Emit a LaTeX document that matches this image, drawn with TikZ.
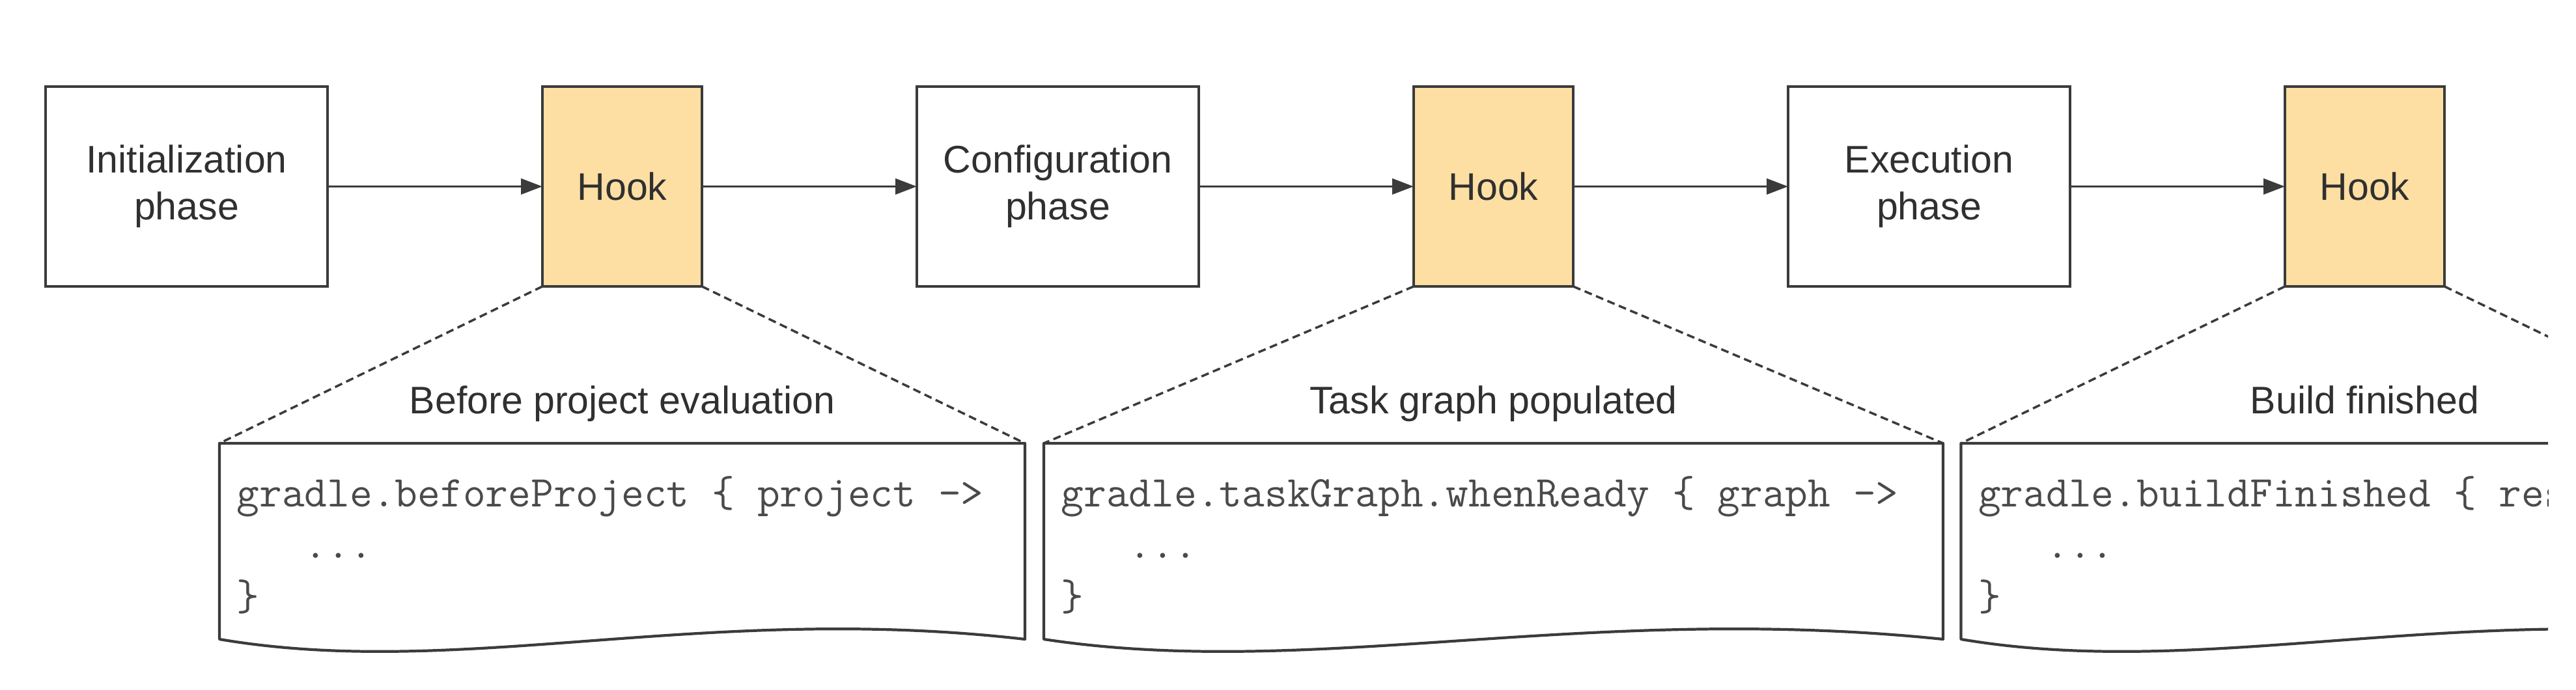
\documentclass[tikz,border=0pt]{standalone}
\usepackage{fontspec}
\setmainfont{Liberation Sans}
\usetikzlibrary{positioning,arrows.meta,calc}
\definecolor{hookfill}{HTML}{FDDFA3}
\definecolor{linegray}{HTML}{3B3B3B}
\definecolor{textgray}{HTML}{303030}
\definecolor{codegray}{HTML}{4A4A4A}
\tikzset{
  phase/.style={draw=linegray, line width=1.2pt, minimum width=4.33cm, minimum height=3.07cm,
    inner sep=0pt, outer sep=0pt, align=center, text=textgray, font=\fontsize{16.8}{20.5}\selectfont},
  hook/.style={phase, fill=hookfill, minimum width=2.45cm},
  flow/.style={->, draw=linegray, line width=1.1pt},
  zoomline/.style={draw=linegray, line width=1pt, dash pattern=on 0.12cm off 0.07cm},
  docbox/.style={minimum height=3.01cm, inner sep=0pt, outer sep=0pt},
  docline/.style={draw=linegray, line width=1.2pt, line join=round},
  hooklabel/.style={text=textgray, anchor=base, inner sep=0pt, font=\fontsize{16.8}{20.5}\selectfont},
  codetext/.style={text=codegray, anchor=base west, align=left, inner sep=0pt,
    font=\ttfamily\fontsize{19.2}{22.5}\selectfont}
}
\begin{document}
\begin{tikzpicture}[>={Triangle[length=0.33cm,width=0.24cm]}]
\useasboundingbox (0,0) rectangle (39.56,-10.60);
\clip (0,0) rectangle (39.13,-10.60);
% phases and hooks
\node (init) [phase] at (2.865,-2.865) {Initialization\\phase};
\node (h1) [hook, right=3.3cm of init] {Hook};
\node (conf) [phase, right=3.3cm of h1] {Configuration\\phase};
\node (h2) [hook, right=3.3cm of conf] {Hook};
\node (exec) [phase, right=3.3cm of h2] {Execution\\phase};
\node (h3) [hook, right=3.3cm of exec] {Hook};
\draw[flow] (init) -- (h1);
\draw[flow] (h1) -- (conf);
\draw[flow] (conf) -- (h2);
\draw[flow] (h2) -- (exec);
\draw[flow] (exec) -- (h3);
% what each hook looks like
\node (doc1) [docbox, minimum width=12.37cm, below=2.41cm of h1] {};
\node (doc2) [docbox, minimum width=13.81cm, below=2.41cm of h2] {};
\node (doc3) [docbox, minimum width=12.40cm, below=2.41cm of h3] {};
\foreach \d in {doc1,doc2,doc3}
  \draw[docline] (\d.south west) -- (\d.north west) -- (\d.north east) -- (\d.south east)
    .. controls ($(\d.south west)!0.6!(\d.south east)+(0,0.57)$) and ($(\d.south west)!0.3!(\d.south east)+(0,-0.63)$) .. (\d.south west) -- cycle;
\node (l1) [hooklabel] at ($(doc1.north)+(0,0.45)$) {Before project evaluation};
\node (l2) [hooklabel] at ($(doc2.north)+(0,0.45)$) {Task graph populated};
\node (l3) [hooklabel] at ($(doc3.north)+(0,0.45)$) {Build finished};
\node (c1) [codetext] at ($(doc1.north west)+(0.26,-2.56)$) {gradle.beforeProject \{ project ->\\\hphantom{xxx}...\\\}};
\node (c2) [codetext] at ($(doc2.north west)+(0.26,-2.56)$) {gradle.taskGraph.whenReady \{ graph ->\\\hphantom{xxx}...\\\}};
\node (c3) [codetext] at ($(doc3.north west)+(0.26,-2.56)$) {gradle.buildFinished \{ result ->\\\hphantom{xxx}...\\\}};
\draw[zoomline] (h1.south west) -- (doc1.north west);
\draw[zoomline] (h1.south east) -- (doc1.north east);
\draw[zoomline] (h2.south west) -- (doc2.north west);
\draw[zoomline] (h2.south east) -- (doc2.north east);
\draw[zoomline] (h3.south west) -- (doc3.north west);
\draw[zoomline] (h3.south east) -- (doc3.north east);
\end{tikzpicture}
\end{document}
